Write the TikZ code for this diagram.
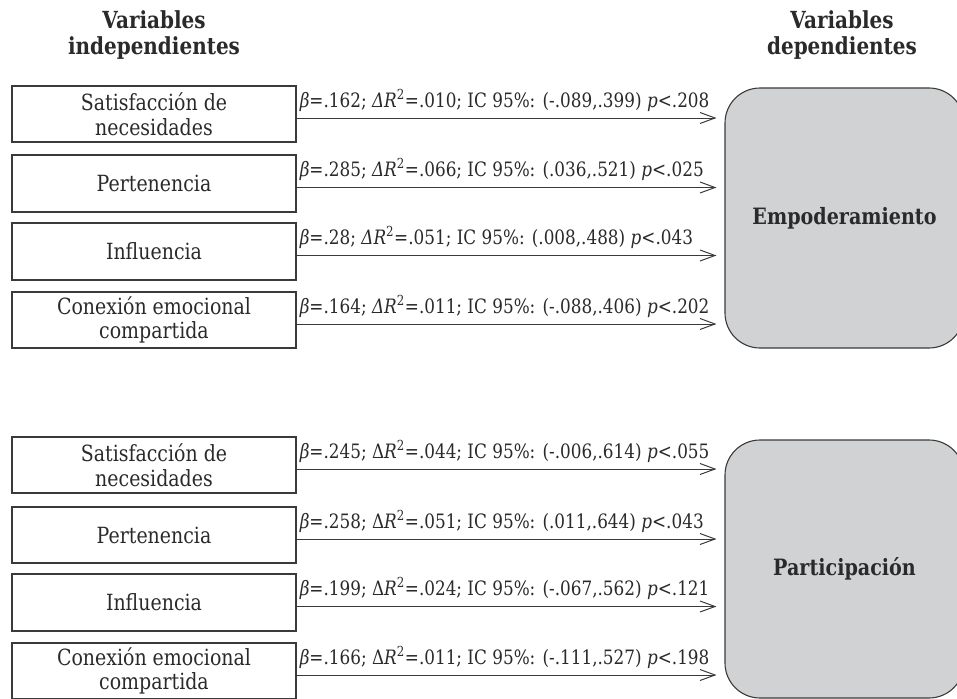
\documentclass[tikz,border=0pt]{standalone}
\usepackage{fontspec}
\setmainfont{DejaVu Serif}[FakeStretch=0.85]
\usetikzlibrary{arrows.meta,calc}
\definecolor{ln}{HTML}{3A3A3A}
\definecolor{boxgray}{HTML}{D1D2D4}
\definecolor{txt}{HTML}{2A2A2A}
\tikzset{
  ivbox/.style={draw=ln,line width=1.1pt,minimum width=284pt,minimum height=56pt,inner sep=0pt,align=center,text=txt,font=\fontsize{22.3}{24.5}\selectfont},
  dvbox/.style={draw=ln,line width=1.1pt,fill=boxgray,rounded corners=35pt,inner sep=0pt,text=txt,font=\fontsize{22.5}{26}\selectfont\bfseries},
  hdr/.style={align=center,text=txt,font=\fontsize{23.5}{25.5}\selectfont\bfseries},
  arr/.style={draw=ln,line width=1pt,-{Straight Barb[length=15pt,width=11pt,line width=1pt]},shorten >=8pt},
  lbl/.style={anchor=base west,inner sep=0pt,text=txt,font=\fontsize{19.8}{24}\selectfont}
}
\begin{document}
\begin{tikzpicture}[x=1pt,y=-1pt]
\useasboundingbox (0,0) rectangle (957,698);
\begin{scope}
\clip (0,0) rectangle (957,698);
% headers
\node[hdr] (h1) at (154,35) {Variables\\independientes};
\node[hdr] (h2) at (842,35) {Variables\\dependientes};
% dependent boxes
\node[dvbox,minimum width=239pt,minimum height=260pt] (E) at (844.5,218) {Empoderamiento};
\node[dvbox,minimum width=239pt,minimum height=258pt] (P) at (844.5,569) {Participación};
% independent boxes top
\node[ivbox] (a1) at (154,114) {Satisfacción de\\necesidades};
\node[ivbox,minimum height=57pt] (a2) at (154,183.5) {Pertenencia};
\node[ivbox,minimum height=57pt] (a3) at (154,251.5) {Influencia};
\node[ivbox] (a4) at (154,320) {Conexión emocional\\compartida};
% bottom
\node[ivbox] (b1) at (154,465) {Satisfacción de\\necesidades};
\node[ivbox] (b2) at (154,535) {Pertenencia};
\node[ivbox,minimum height=57pt] (b3) at (154,602.5) {Influencia};
\node[ivbox] (b4) at (154,671) {Conexión emocional\\compartida};
\end{scope}
% arrows and labels
\foreach \n/\t in {a1/E,a2/E,a3/E,a4/E,b1/P,b2/P,b3/P,b4/P}{
  \draw[arr] ([yshift=-4pt]\n.east) -- ([yshift=-4pt]\n.east -| \t.west);
}
\node[lbl] (l1) at ([xshift=3pt,yshift=7pt]a1.east) {{\itshape β}=.162; {\itshape ΔR}\textsuperscript{2}=.010; IC 95\%: (-.089,.399)~{\itshape p}<.208};
\node[lbl] (l2) at ([xshift=3pt,yshift=7pt]a2.east) {{\itshape β}=.285; {\itshape ΔR}\textsuperscript{2}=.066; IC 95\%: (.036,.521)~{\itshape p}<.025};
\node[lbl] (l3) at ([xshift=3pt,yshift=7pt]a3.east) {{\itshape β}=.28; {\itshape ΔR}\textsuperscript{2}=.051; IC 95\%: (.008,.488)~{\itshape p}<.043};
\node[lbl] (l4) at ([xshift=3pt,yshift=7pt]a4.east) {{\itshape β}=.164; {\itshape ΔR}\textsuperscript{2}=.011; IC 95\%: (-.088,.406)~{\itshape p}<.202};
\node[lbl] (m1) at ([xshift=3pt,yshift=7pt]b1.east) {{\itshape β}=.245; Δ{\itshape R}\textsuperscript{2}=.044; IC 95\%: (-.006,.614)~{\itshape p}<.055};
\node[lbl] (m2) at ([xshift=3pt,yshift=7pt]b2.east) {{\itshape β}=.258; Δ{\itshape R}\textsuperscript{2}=.051; IC 95\%: (.011,.644)~{\itshape p}<.043};
\node[lbl] (m3) at ([xshift=3pt,yshift=7pt]b3.east) {{\itshape β}=.199; Δ{\itshape R}\textsuperscript{2}=.024; IC 95\%: (-.067,.562)~{\itshape p}<.121};
\node[lbl] (m4) at ([xshift=3pt,yshift=7pt]b4.east) {{\itshape β}=.166; Δ{\itshape R}\textsuperscript{2}=.011; IC 95\%: (-.111,.527)~{\itshape p}<.198};
\end{tikzpicture}
\end{document}
